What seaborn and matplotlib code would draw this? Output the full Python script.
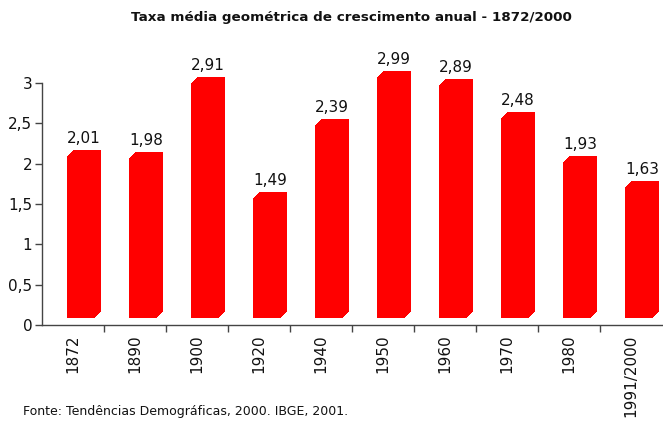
import matplotlib
matplotlib.use("Agg")
import matplotlib.pyplot as plt
import matplotlib.transforms as mtransforms
from matplotlib.patches import Rectangle
from matplotlib.ticker import FuncFormatter, FixedLocator
import seaborn as sns
import pandas as pd

categories = ["1872", "1890", "1900", "1920", "1940", "1950", "1960", "1970", "1980", "1991/2000"]
values = [2.01, 1.98, 2.91, 1.49, 2.39, 2.99, 2.89, 2.48, 1.93, 1.63]
value_labels = ["2,01", "1,98", "2,91", "1,49", "2,39", "2,99", "2,89", "2,48", "1,93", "1,63"]
title = "Taxa média geométrica de crescimento anual - 1872/2000"
source = "Fonte: Tendências Demográficas, 2000. IBGE, 2001."

sns.set_style("white")
plt.rcParams["font.family"] = ["DejaVu Sans"]

W, H = 663, 421
fig = plt.figure(figsize=(W / 100, H / 100), dpi=100)
ax = fig.add_axes([42 / W, 1 - 325 / H, (662 - 42) / W, (325 - 83) / H])

df = pd.DataFrame({"ano": categories, "taxa": values})
sns.barplot(data=df, x="ano", y="taxa", color="#FF0000", saturation=1,
            width=0.44, ax=ax, linewidth=0, edgecolor="none")

# pseudo-3D extrusion: front face shifted, depth copies to upper-right
def off(dx_px, dy_px):
    return ax.transData + mtransforms.ScaledTranslation(dx_px / 100, dy_px / 100, fig.dpi_scale_trans)

base = list(ax.patches)
for p in base:
    p.set_transform(off(8, 7))
    p.set_clip_on(False)
    for k in range(1, 7):
        r = Rectangle(p.get_xy(), p.get_width(), p.get_height(), facecolor="#FF0000",
                      edgecolor="none", linewidth=0, transform=off(8 + k, 7 + k), clip_on=False)
        ax.add_patch(r)

for i, (v, lab) in enumerate(zip(values, value_labels)):
    ax.annotate(lab, xy=(i, v), xytext=(11 * 0.72, 17 * 0.72), textcoords="offset points",
                ha="center", va="bottom", fontsize=11, color="#111111", annotation_clip=False)

ax.set_xlim(-0.5, len(categories) - 0.5)
ax.set_ylim(0, 3)
ax.set_yticks([0, 0.5, 1, 1.5, 2, 2.5, 3])
ax.yaxis.set_major_formatter(FuncFormatter(lambda v, p: ("%g" % v).replace(".", ",")))
ax.set_xlabel("")
ax.set_ylabel("")
ax.set_xticks(range(len(categories)))
ax.set_xticklabels(categories, rotation=90, fontsize=11, color="#111111")
ax.xaxis.set_minor_locator(FixedLocator([i + 0.5 for i in range(len(categories) - 1)]))
ax.tick_params(axis="x", which="major", length=0, pad=7)
ax.tick_params(axis="x", which="minor", length=5, width=1, color="#444444", direction="out", bottom=True)
ax.tick_params(axis="y", which="major", length=5, width=1, color="#444444", direction="out",
               left=True, labelsize=11, labelcolor="#111111", pad=2)
for s in ["top", "right"]:
    ax.spines[s].set_visible(False)
for s in ["left", "bottom"]:
    ax.spines[s].set_color("#444444")
    ax.spines[s].set_linewidth(1)

fig.text(351 / W, 1 - 18 / H, title, ha="center", va="center", fontsize=9.7, fontweight="bold", color="#111111")
fig.text(23 / W, 1 - 411 / H, source, ha="left", va="center", fontsize=9, color="#111111")

fig.savefig("out.png", dpi=100)
